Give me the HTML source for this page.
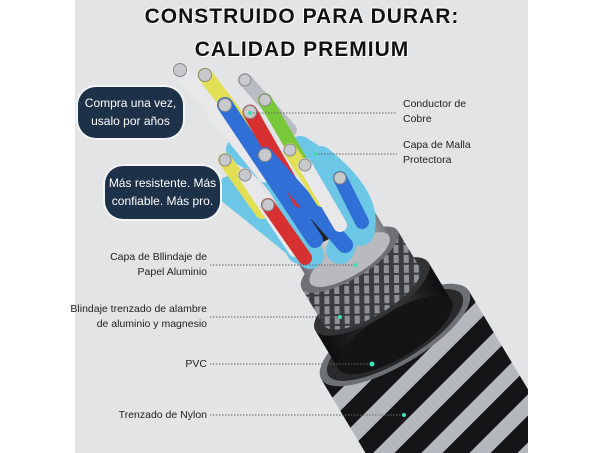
<!DOCTYPE html>
<html><head><meta charset="utf-8"><style>
html,body{margin:0;padding:0;background:#fff;overflow:hidden;}
#c{position:relative;width:604px;height:453px;overflow:hidden;background:#fff;font-family:"Liberation Sans",sans-serif;}
#p{position:absolute;left:75px;top:0;width:453px;height:453px;background:#e3e4e6;}
.t{position:absolute;left:0;width:604px;text-align:center;font-weight:900;font-size:21px;letter-spacing:1px;color:#111;text-shadow:1px 1px 0 #fff,-1px -1px 0 #fff;}
.b{position:absolute;background:#1d3149;color:#fff;border-radius:18px;font-size:12px;text-align:center;line-height:18px;box-shadow:0 0 0 2px #f3f4f5;}
.l{position:absolute;font-size:10.5px;line-height:15px;color:#222;}
.r{text-align:right;}
</style></head><body><div id="c">
<div id="p"></div>
<svg width="604" height="453" style="position:absolute;left:0;top:0">
<defs>
<clipPath id="cp"><rect x="75" y="0" width="453" height="453"/></clipPath>
<pattern id="st" width="300" height="34" patternUnits="userSpaceOnUse" patternTransform="rotate(-14)">
<rect width="300" height="34" fill="#151517"/><rect y="0" width="300" height="15" fill="#b4b7bc"/>
</pattern>
<pattern id="br" width="10" height="10" patternUnits="userSpaceOnUse" patternTransform="rotate(30)">
<rect width="10" height="10" fill="#3a3c40"/><rect width="5" height="8" fill="#8e9196"/>
</pattern>
<linearGradient id="sv" x1="0" x2="1"><stop offset="0" stop-color="#6a6c70"/><stop offset=".5" stop-color="#eeeeee"/><stop offset="1" stop-color="#7a7c80"/></linearGradient>
<linearGradient id="bk" x1="0" x2="1"><stop offset="0" stop-color="#0e0e10"/><stop offset=".6" stop-color="#3a3a3c"/><stop offset="1" stop-color="#0e0e10"/></linearGradient>
</defs>
<g clip-path="url(#cp)">
<g transform="translate(395,335) rotate(-31)">
<rect x="-86" y="0" width="172" height="300" fill="url(#st)"/>
<ellipse cx="0" cy="0" rx="86" ry="30" fill="#6d7075"/>
<ellipse cx="0" cy="0" rx="78" ry="26" fill="#2a2a2c"/>
<rect x="-66" y="-45" width="132" height="45" fill="url(#bk)"/>
<ellipse cx="0" cy="0" rx="66" ry="23" fill="#141416"/>
<ellipse cx="0" cy="-45" rx="66" ry="23" fill="#333336"/>
<rect x="-56" y="-88" width="112" height="43" fill="url(#br)"/>
<ellipse cx="0" cy="-45" rx="56" ry="19" fill="url(#br)"/>
<ellipse cx="0" cy="-88" rx="56" ry="19" fill="#6e7074"/>
<rect x="-46" y="-132" width="92" height="44" fill="url(#sv)"/>
<ellipse cx="0" cy="-88" rx="46" ry="16" fill="#b8babe"/>
<ellipse cx="0" cy="-132" rx="46" ry="16" fill="#222"/>
</g>
<g stroke-linecap="round" fill="none">
<path d="M240 150 Q300 180 300 250 M300 150 Q365 190 340 250 M230 190 Q280 230 310 255 M320 160 Q370 200 360 232" stroke="#6cc6e6" stroke-width="28"/>
<line x1="180" y1="70" x2="265" y2="175" stroke="#e8e8ea" stroke-width="15"/>
<line x1="205" y1="75" x2="270" y2="160" stroke="#e3df55" stroke-width="15"/>
<line x1="245" y1="80" x2="290" y2="130" stroke="#b9bcc2" stroke-width="14"/>
<line x1="225" y1="105" x2="315" y2="240" stroke="#2f6fd6" stroke-width="16"/>
<line x1="250" y1="112" x2="300" y2="200" stroke="#d63030" stroke-width="15"/>
<line x1="265" y1="100" x2="300" y2="160" stroke="#78c83a" stroke-width="14"/>
<line x1="225" y1="160" x2="262" y2="212" stroke="#e3df55" stroke-width="14"/>
<line x1="245" y1="175" x2="295" y2="250" stroke="#e8e8ea" stroke-width="14"/>
<line x1="268" y1="205" x2="305" y2="258" stroke="#d63030" stroke-width="14"/>
<line x1="265" y1="155" x2="345" y2="245" stroke="#2f6fd6" stroke-width="16"/>
<line x1="290" y1="150" x2="322" y2="200" stroke="#e3df55" stroke-width="14"/>
<line x1="305" y1="165" x2="340" y2="225" stroke="#e8e8ea" stroke-width="14"/>
<line x1="340" y1="178" x2="362" y2="222" stroke="#2f6fd6" stroke-width="14"/>
</g>
<g fill="#c7c9cc" stroke="#888" stroke-width="1">
<circle cx="180" cy="70" r="6.5"/><circle cx="205" cy="75" r="6.5"/><circle cx="245" cy="80" r="6"/><circle cx="225" cy="105" r="6.5"/><circle cx="250" cy="112" r="6.5"/><circle cx="265" cy="100" r="6"/><circle cx="225" cy="160" r="6"/><circle cx="245" cy="175" r="6"/><circle cx="268" cy="205" r="6"/><circle cx="265" cy="155" r="6.5"/><circle cx="290" cy="150" r="6"/><circle cx="305" cy="165" r="6"/><circle cx="340" cy="178" r="6"/>
</g>
</g>
<g stroke="#666" stroke-width="1" stroke-dasharray="1.5 1.5">
<line x1="250" y1="113" x2="397" y2="113"/><line x1="315" y1="154" x2="397" y2="154"/>
<line x1="210" y1="265" x2="356" y2="265"/><line x1="210" y1="317" x2="340" y2="317"/>
<line x1="210" y1="364" x2="372" y2="364"/><line x1="210" y1="415" x2="404" y2="415"/>
</g>
<g fill="#3ee0b0"><circle cx="250" cy="113" r="2"/><circle cx="315" cy="154" r="2"/><circle cx="356" cy="265" r="2"/><circle cx="340" cy="317" r="2"/><circle cx="372" cy="364" r="2.5"/><circle cx="404" cy="415" r="2"/></g>
</svg>
<div class="t" style="top:5px">CONSTRUIDO PARA DURAR:</div>
<div class="t" style="top:38px">CALIDAD PREMIUM</div>
<div class="b" style="left:78px;top:87px;width:105px;height:51px;padding-top:7px;box-sizing:border-box">Compra una vez,<br>usalo por años</div>
<div class="b" style="left:105px;top:166px;width:115px;height:53px;padding-top:8px;box-sizing:border-box">Más resistente. Más<br>confiable. Más pro.</div>
<div class="l" style="left:403px;top:97px">Conductor de<br>Cobre</div>
<div class="l" style="left:403px;top:138px">Capa de Malla<br>Protectora</div>
<div class="l r" style="left:60px;width:147px;top:250px">Capa de Bllindaje de<br>Papel Aluminio</div>
<div class="l r" style="left:40px;width:167px;top:302px">Blindaje trenzado de alambre<br>de aluminio y magnesio</div>
<div class="l r" style="left:60px;width:147px;top:357px">PVC</div>
<div class="l r" style="left:60px;width:147px;top:408px">Trenzado de Nylon</div>
</div></body></html>
